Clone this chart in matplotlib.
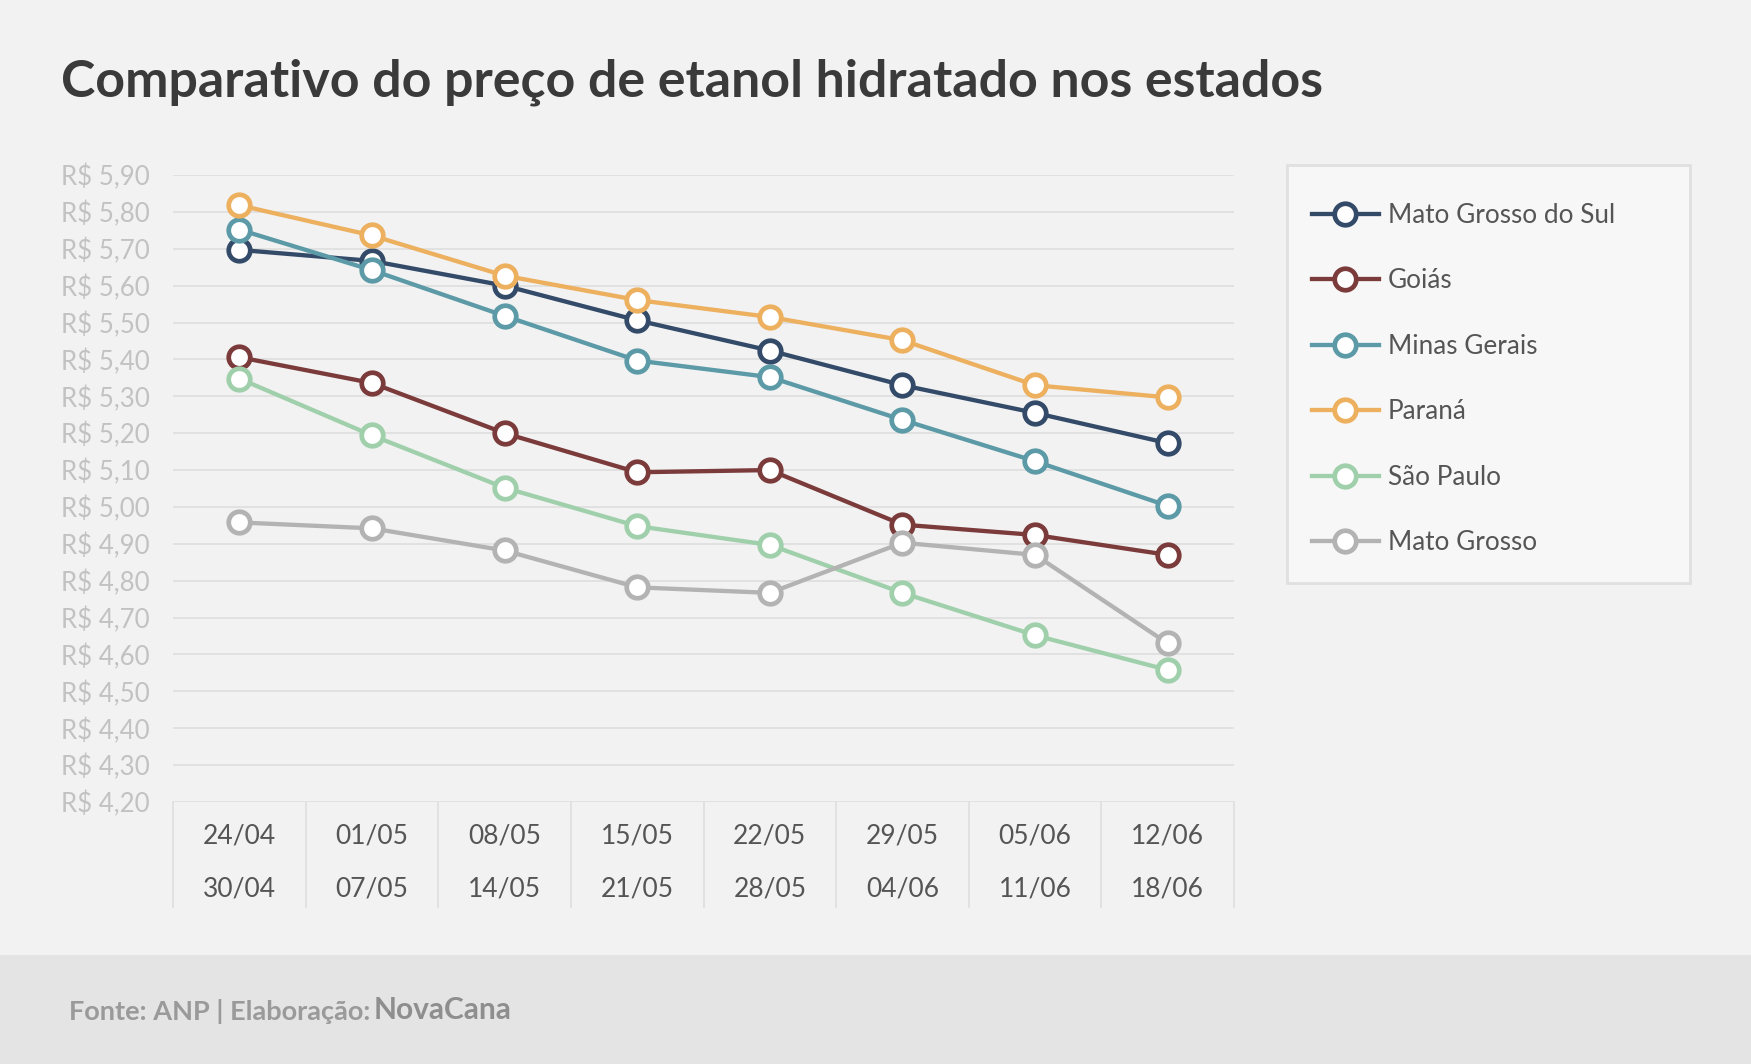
import matplotlib
matplotlib.use("Agg")
import matplotlib.pyplot as plt
from matplotlib.patches import Rectangle
import matplotlib.transforms as mtransforms

plt.rcParams['font.family'] = ['Lato', 'DejaVu Sans']

# semanas
week_start = ['24/04', '01/05', '08/05', '15/05', '22/05', '29/05', '05/06', '12/06']
week_end = ['30/04', '07/05', '14/05', '21/05', '28/05', '04/06', '11/06', '18/06']

# preço médio do etanol hidratado (R$/l)
mato_grosso_do_sul = [5.697, 5.667, 5.600, 5.506, 5.424, 5.330, 5.255, 5.173]
goias = [5.406, 5.336, 5.200, 5.094, 5.100, 4.952, 4.924, 4.870]
minas_gerais = [5.752, 5.642, 5.518, 5.397, 5.352, 5.236, 5.124, 5.003]
parana = [5.818, 5.736, 5.627, 5.561, 5.515, 5.452, 5.330, 5.297]
sao_paulo = [5.348, 5.194, 5.052, 4.948, 4.897, 4.767, 4.652, 4.558]
mato_grosso = [4.958, 4.942, 4.882, 4.782, 4.767, 4.903, 4.870, 4.630]

states = ['Mato Grosso do Sul', 'Goiás', 'Minas Gerais', 'Paraná', 'São Paulo', 'Mato Grosso']
series = [mato_grosso_do_sul, goias, minas_gerais, parana, sao_paulo, mato_grosso]
colors = ['#334b68', '#7b3b3b', '#5b9aa6', '#ecb05f', '#a0d0ab', '#b3b3b3']

yticks = [4.2 + 0.1 * i for i in range(18)]

W, H = 1751, 1064
fig = plt.figure(figsize=(W / 100, H / 100), dpi=100)
fig.patch.set_facecolor('#f2f2f2')

# faixa do rodapé
fig.patches.append(Rectangle((0, 0), 1, 1 - 955 / H, transform=fig.transFigure,
                             facecolor='#e4e4e4', edgecolor='none', zorder=0))
# moldura da legenda
fig.patches.append(Rectangle((1287 / W, 1 - 583 / H), (1690 - 1287) / W, (583 - 165) / H,
                             transform=fig.transFigure, facecolor='#f7f7f7',
                             edgecolor='#e0e0e0', lw=2, zorder=0))

ax = fig.add_axes([173 / W, 1 - 802 / H, (1234 - 173) / W, (802 - 175) / H])
ax.set_facecolor('#f2f2f2')

x = list(range(len(week_start)))
handles = []
for vals, name, c in zip(series, states, colors):
    h, = ax.plot(x, vals, '-o', color=c, lw=3.1, ms=15.5, mfc='white', mec=c, mew=3.4,
                 label=name, zorder=3, clip_on=False)
    handles.append(h)

ax.set_xlim(-0.5, len(x) - 0.5)
ax.set_ylim(4.2, 5.9)
ax.set_yticks(yticks)
ax.set_yticklabels(['R$ ' + ('%.2f' % v).replace('.', ',') for v in yticks])
ax.yaxis.grid(True, color='#e0e0e0', lw=1.3, zorder=0)
ax.set_xticks([])
ax.tick_params(axis='y', length=0, pad=17, labelsize=18.6, labelcolor='#c2c2c2')
for s in ax.spines.values():
    s.set_visible(False)

# rótulos do eixo x em duas linhas, com separadores
trans = mtransforms.blended_transform_factory(ax.transData, ax.transAxes)
for i in range(len(x) + 1):
    ax.plot([i - 0.5, i - 0.5], [0, -0.168], color='#e0e0e0', lw=1.3,
            transform=trans, clip_on=False)
for i, (a, b) in enumerate(zip(week_start, week_end)):
    ax.text(i, -0.054, a, transform=trans, ha='center', va='center',
            fontsize=19, color='#555555')
    ax.text(i, -0.139, b, transform=trans, ha='center', va='center',
            fontsize=19, color='#555555')

fig.text(61 / W, 1 - 82 / H, 'Comparativo do preço de etanol hidratado nos estados',
         fontsize=37.4, fontweight='bold', color='#3a3a3a', va='center', ha='left')

leg = fig.legend(handles, states, loc='upper left',
                 bbox_to_anchor=(1312 / W, 1 - 203 / H),
                 frameon=False, fontsize=18.8,
                 labelcolor='#555555', handlelength=2.55, handletextpad=0.35,
                 labelspacing=1.55, borderpad=0, borderaxespad=0, numpoints=1)

fig.text(69 / W, 1 - 1012 / H, 'Fonte: ANP | Elaboração:', fontsize=19.5,
         fontweight='bold', color='#9a9a9a', va='center', ha='left')
fig.text(374 / W, 1 - 1010 / H, 'NovaCana', fontsize=21.5,
         fontweight='bold', color='#8e8e8e', va='center', ha='left')

fig.savefig('out.png', dpi=100, facecolor=fig.get_facecolor())
